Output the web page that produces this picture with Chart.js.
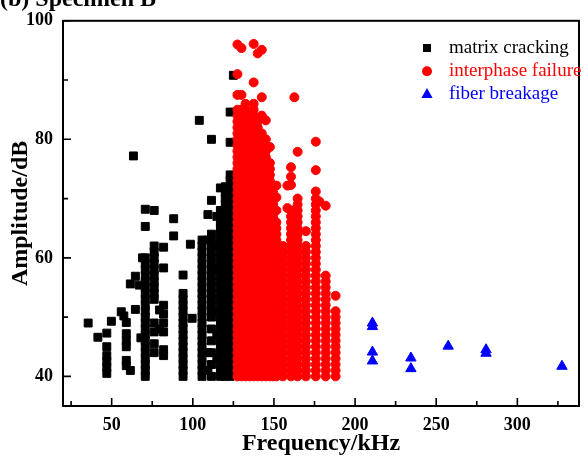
<!DOCTYPE html>
<html>
<head>
<meta charset="utf-8">
<script src="https://cdn.jsdelivr.net/npm/chart.js@4.4.0/dist/chart.umd.min.js"></script>
<style>
  html, body { margin: 0; padding: 0; background: #fff; overflow: hidden; }
  #wrap { width: 586px; height: 459px; }
</style>
</head>
<body>
<div id="wrap"><canvas id="chart" width="586" height="459"></canvas></div>
<script>
const xTicks = [50, 100, 150, 200, 250, 300];
const xMinorTicks = [25, 75, 125, 175, 225, 275, 325];
const yTicks = [40, 60, 80, 100];
const yMinorTicks = [50, 70, 90];

const seriesNames = ['matrix cracking', 'interphase failure', 'fiber breakage'];
const seriesColors = ['#000000', '#ff0000', '#0000ff'];

// each series is stored column by column: one frequency (kHz), the amplitudes (dB) hit at it
const crackFreq = [35.5, 41.5, 47, 49.8, 55.9, 57.5, 59, 61.5, 63.4, 64.6, 67, 68, 69, 70.7, 76.2, 79.5, 82,
  88.2, 94, 98.5, 99.6, 104, 105.7, 109.3, 111.5, 114.8, 117, 120, 123, 125];
const crackAmp = [
  [49],
  [46.6],
  [40.5, 41.5, 42.5, 43.5, 45, 47.3],
  [49.3],
  [50.9],
  [50.2],
  [41.8, 42.7, 45, 46, 47.2, 49.1],
  [41, 55.6],
  [77.2],
  [51.3, 56.9],
  [55.4],
  [46.5],
  [60],
  [40, 41, 42, 43, 44, 45, 46, 47, 48, 49, 50, 51, 52, 53, 54, 55, 56, 57, 58, 59, 60, 65.3, 68.2],
  [44, 45.5, 47.5, 49, 53, 54, 55, 56, 57, 58, 59, 60, 61, 62, 68],
  [48, 51.2],
  [43.5, 44.5, 47.5, 49, 50.5, 52, 58.3, 61.8],
  [63.7, 66.6],
  [40, 41, 42, 43, 44, 45, 46, 47, 48, 49, 50, 51, 52, 53, 54, 57.1],
  [62.3],
  [49.8],
  [83.2],
  [40, 41, 42, 43, 44, 45, 46, 47, 48, 49, 50, 51, 52, 53, 54, 55, 56, 57, 58, 59, 60, 61, 62, 63],
  [41, 44, 63, 67.3],
  [40, 42, 44, 46, 48, 50, 51, 52, 53, 54, 55, 56, 57, 58, 59, 60, 61, 62, 63, 64, 69.7, 80],
  [43, 47, 51, 58, 62, 67],
  [40, 41, 42, 43, 44, 45, 46, 47, 48, 49, 50, 51, 52, 53, 54, 55, 56, 57, 58, 59, 60, 61, 62, 63, 64, 65, 66, 67, 68, 71.8],
  [40, 41, 42, 43, 44, 45, 46, 47, 48, 49, 50, 51, 52, 53, 54, 55, 56, 57, 58, 59, 60, 61, 62, 63, 64, 65, 66, 67, 68, 69, 70, 71, 72],
  [40, 41, 42, 43, 44, 45, 46, 47, 48, 49, 50, 51, 52, 53, 54, 55, 56, 57, 58, 59, 60, 61, 62, 63, 64, 65, 66, 67, 68, 69, 70, 71, 72, 73, 74, 79.5, 84.6],
  [90.8]
];

const interFreq = [127.5, 130, 132.5, 135, 137.5, 140, 142.5, 145, 147.5, 149.5, 151.5, 155.5, 158.3, 160.5, 162.6,
  164.6, 169.7, 175.8, 178, 181.9, 188];
const interAmp = [
  [40, 41, 42, 43, 44, 45, 46, 47, 48, 49, 50, 51, 52, 53, 54, 55, 56, 57, 58, 59, 60, 61, 62, 63, 64, 65, 66, 67, 68, 69, 70, 71, 72, 73, 74, 75, 76, 77, 78, 79, 80, 81, 82, 83, 84, 85, 87.5, 91, 96],
  [40, 41, 42, 43, 44, 45, 46, 47, 48, 49, 50, 51, 52, 53, 54, 55, 56, 57, 58, 59, 60, 61, 62, 63, 64, 65, 66, 67, 68, 69, 70, 71, 72, 73, 74, 75, 76, 77, 78, 79, 80, 81, 82, 83, 84, 85, 87.5, 95.4],
  [40, 41, 42, 43, 44, 45, 46, 47, 48, 49, 50, 51, 52, 53, 54, 55, 56, 57, 58, 59, 60, 61, 62, 63, 64, 65, 66, 67, 68, 69, 70, 71, 72, 73, 74, 75, 76, 77, 78, 79, 80, 81, 82, 83, 84, 85, 86],
  [40, 41, 42, 43, 44, 45, 46, 47, 48, 49, 50, 51, 52, 53, 54, 55, 56, 57, 58, 59, 60, 61, 62, 63, 64, 65, 66, 67, 68, 69, 70, 71, 72, 73, 74, 75, 76, 77, 78, 79, 80, 81, 82, 83, 84],
  [40, 41, 42, 43, 44, 45, 46, 47, 48, 49, 50, 51, 52, 53, 54, 55, 56, 57, 58, 59, 60, 61, 62, 63, 64, 65, 66, 67, 68, 69, 70, 71, 72, 73, 74, 75, 76, 77, 78, 79, 80, 81, 82, 83, 84, 85, 86, 89.6, 96.1],
  [40, 41, 42, 43, 44, 45, 46, 47, 48, 49, 50, 51, 52, 53, 54, 55, 56, 57, 58, 59, 60, 61, 62, 63, 64, 65, 66, 67, 68, 69, 70, 71, 72, 73, 74, 75, 76, 77, 78, 79, 80, 81, 82, 83, 94.5],
  [40, 41, 42, 43, 44, 45, 46, 47, 48, 49, 50, 51, 52, 53, 54, 55, 56, 57, 58, 59, 60, 61, 62, 63, 64, 65, 66, 67, 68, 69, 70, 71, 72, 73, 74, 75, 76, 77, 78, 79, 80, 81, 84, 87.1, 95.1],
  [40, 41, 42, 43, 44, 45, 46, 47, 48, 49, 50, 51, 52, 53, 54, 55, 56, 57, 58, 59, 60, 61, 62, 63, 64, 65, 66, 67, 68, 69, 70, 71, 72, 73, 74, 75, 76, 77, 78, 79, 80, 83.2],
  [40, 41, 42, 43, 44, 45, 46, 47, 48, 49, 50, 51, 52, 53, 54, 55, 56, 57, 58, 59, 60, 61, 62, 63, 64, 65, 66, 67, 68, 69, 70, 71, 72, 73, 74, 75, 76, 78.7],
  [40, 41, 42, 43, 44, 45, 46, 47, 48, 49, 50, 51, 52, 53, 54, 55, 56, 57, 58, 59, 60, 61, 62, 63, 64, 65, 66, 67, 68, 69, 70, 71],
  [40, 41, 42, 43, 44, 45, 46, 47, 48, 49, 50, 51, 52, 53, 54, 55, 56, 57, 58, 59, 60, 61, 62, 63, 64, 65, 66, 68, 70.2, 72.2],
  [40, 41, 42, 43, 44, 45, 46, 47, 48, 49, 50, 51, 52, 53, 54, 55, 56, 57, 58, 59, 60, 61, 62],
  [68.4, 72.2],
  [40, 41, 42, 43, 44, 45, 46, 47, 48, 49, 50, 51, 52, 53, 54, 55, 56, 57, 58, 59, 60, 61, 62, 63, 64, 65, 66, 67, 68, 72.3, 73.7, 75.3],
  [87.1],
  [40, 41, 42, 43, 44, 45, 46, 47, 48, 49, 50, 51, 52, 53, 54, 55, 56, 57, 58, 59, 60, 61, 62, 63, 64, 65, 66, 67, 68, 69, 70, 77.9],
  [40, 41, 42, 43, 44, 45, 46, 47, 48, 49, 50, 51, 52, 53, 54, 55, 56, 57, 58, 59, 60, 61, 62, 64.5],
  [40, 41, 42, 43, 44, 45, 46, 47, 48, 49, 50, 51, 52, 53, 54, 55, 56, 57, 58, 59, 60, 61, 62, 63, 64, 65, 66, 67, 68, 69, 70, 71.2, 74.8, 79.6],
  [69.5],
  [40, 41, 42, 43, 44, 45, 46, 47, 48, 49, 50, 51, 52, 53, 54, 55, 56, 57, 68.8],
  [40, 41, 42, 43, 44, 45, 46, 47, 48, 49, 50, 51, 53.6]
];

const fiberFreq = [210.7, 234.4, 257.4, 280.7, 327.5];
const fiberAmp = [
  [49, 48.4, 44.1, 42.6],
  [43.1, 41.3],
  [45.1],
  [44.5, 43.9],
  [41.7]
];

function columns(freqs, amps) {
  const pts = [];
  freqs.forEach((f, i) => amps[i].forEach(a => pts.push({ x: f, y: a })));
  return pts;
}

const serif = 'Liberation Serif, Times New Roman, serif';

// frame, inward ticks, legend and the cut-off panel title
const decor = {
  id: 'decor',
  afterDatasetsDraw(chart) {
    const { ctx, chartArea: a, scales: { x, y } } = chart;
    ctx.save();
    ctx.strokeStyle = '#000';
    ctx.lineWidth = 2;
    ctx.strokeRect(a.left, a.top, a.right - a.left, a.bottom - a.top);

    ctx.lineWidth = 1.6;
    ctx.beginPath();
    xTicks.forEach(v => { const p = x.getPixelForValue(v); ctx.moveTo(p, a.bottom); ctx.lineTo(p, a.bottom - 8); });
    xMinorTicks.forEach(v => { const p = x.getPixelForValue(v); ctx.moveTo(p, a.bottom); ctx.lineTo(p, a.bottom - 5); });
    yTicks.forEach(v => { const p = y.getPixelForValue(v); ctx.moveTo(a.left, p); ctx.lineTo(a.left + 8, p); });
    yMinorTicks.forEach(v => { const p = y.getPixelForValue(v); ctx.moveTo(a.left, p); ctx.lineTo(a.left + 5, p); });
    ctx.stroke();

    // legend
    const mx = 427, tx = 449;
    const rows = [48, 71.2, 94];
    ctx.fillStyle = seriesColors[0];
    ctx.fillRect(mx - 4, rows[0] - 4, 8, 8);
    ctx.fillStyle = seriesColors[1];
    ctx.beginPath(); ctx.arc(mx, rows[1], 5, 0, Math.PI * 2); ctx.fill();
    ctx.fillStyle = seriesColors[2];
    ctx.beginPath();
    ctx.moveTo(mx, rows[2] - 6);
    ctx.lineTo(mx + 5.6, rows[2] + 4);
    ctx.lineTo(mx - 5.6, rows[2] + 4);
    ctx.closePath(); ctx.fill();

    ctx.font = '19px ' + serif;
    ctx.textBaseline = 'alphabetic';
    ctx.textAlign = 'left';
    seriesNames.forEach((n, i) => {
      ctx.fillStyle = seriesColors[i];
      ctx.fillText(n, tx, rows[i] + 4.5);
    });

    ctx.fillStyle = '#000';
    ctx.font = 'bold 24px ' + serif;
    ctx.fillText('(b) Specimen B', 0, 6);
    ctx.restore();
  }
};

const tickFont = { family: serif, size: 18, weight: 'bold' };
const titleFont = { family: serif, size: 24, weight: 'bold' };

new Chart(document.getElementById('chart'), {
  type: 'scatter',
  data: {
    datasets: [
      {
        label: seriesNames[0], data: columns(crackFreq, crackAmp),
        pointStyle: 'rect', pointRadius: 5.6, borderWidth: 1,
        backgroundColor: seriesColors[0], borderColor: seriesColors[0], order: 2
      },
      {
        label: seriesNames[1], data: columns(interFreq, interAmp),
        pointStyle: 'circle', pointRadius: 4.5, borderWidth: 1,
        backgroundColor: seriesColors[1], borderColor: seriesColors[1], order: 1
      },
      {
        label: seriesNames[2], data: columns(fiberFreq, fiberAmp),
        pointStyle: 'triangle', pointRadius: 6, borderWidth: 1,
        backgroundColor: seriesColors[2], borderColor: seriesColors[2], order: 0
      }
    ]
  },
  options: {
    responsive: false,
    animation: false,
    events: [],
    layout: { padding: { top: 19, right: 1, left: 0, bottom: 0 } },
    plugins: { legend: { display: false }, tooltip: { enabled: false } },
    scales: {
      x: {
        type: 'linear', min: 20, max: 338,
        grid: { display: false, drawTicks: false },
        border: { display: false },
        afterBuildTicks: s => { s.ticks = xTicks.map(v => ({ value: v })); },
        afterFit: s => { s.height = 53; },
        ticks: { color: '#000', padding: 9, font: tickFont, maxRotation: 0, autoSkip: false },
        title: { display: true, text: 'Frequency/kHz', color: '#000', font: titleFont, padding: { top: 0, bottom: 1 } }
      },
      y: {
        type: 'linear', min: 35, max: 100,
        grid: { display: false, drawTicks: false },
        border: { display: false },
        afterBuildTicks: s => { s.ticks = yTicks.map(v => ({ value: v })); },
        afterFit: s => { s.width = 63; },
        ticks: { color: '#000', padding: 10, font: tickFont, autoSkip: false },
        title: { display: true, text: 'Amplitude/dB', color: '#000', font: titleFont, padding: { top: 6, bottom: 0 } }
      }
    }
  },
  plugins: [decor]
});
</script>
</body>
</html>
